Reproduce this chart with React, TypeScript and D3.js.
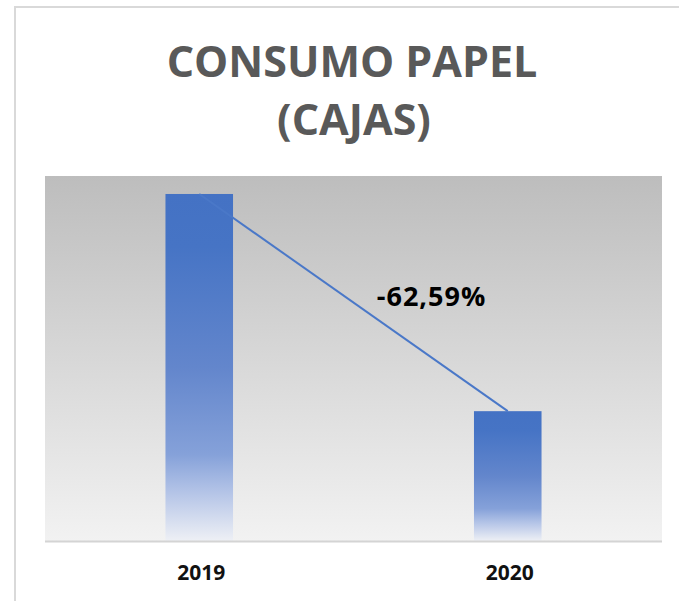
import React from "react";
import * as d3 from "d3";

const categories = ["2019", "2020"];
const consumo = [1390, 520];
const changeLabel = "-62,59%";
const titleLines = ["CONSUMO PAPEL", "(CAJAS)"];

const W = 679;
const H = 601;
const plot = { left: 45, right: 662, top: 176, bottom: 541 };

export default function App() {
  const x = d3.scaleBand<string>().domain(categories).range([plot.left, plot.right]).padding(0);
  const y = d3.scaleLinear().domain([0, 1462]).range([plot.bottom, plot.top]);
  const barW = x.bandwidth() * 0.219;
  const cx = (c: string) => (x(c) as number) + x.bandwidth() / 2;
  const lineGen = d3
    .line<number>()
    .x((_, i) => cx(categories[i]))
    .y((d) => y(d));

  const p0 = [cx(categories[0]), y(consumo[0])];
  const p1 = [cx(categories[1]), y(consumo[1])];

  return (
    <svg
      width={W}
      height={H}
      style={{ position: "absolute", left: 0, top: 0, background: "#fff" }}
      fontFamily="'Open Sans', sans-serif"
    >
      <defs>
        <linearGradient id="bg" x1="0" y1="0" x2="0" y2="1">
          <stop offset="0" stopColor="#bdbdbd" />
          <stop offset="1" stopColor="#f2f2f2" />
        </linearGradient>
        <linearGradient id="barG" x1="0" y1="0" x2="0" y2="1">
          <stop offset="0" stopColor="#4472C4" />
          <stop offset="0.15" stopColor="#4674c5" />
          <stop offset="0.5" stopColor="#6386cc" />
          <stop offset="0.75" stopColor="#85a1d9" />
          <stop offset="0.86" stopColor="#b4c4e7" />
          <stop offset="1" stopColor="#eef0f5" />
        </linearGradient>
      </defs>
      <rect x={15} y={7} width={700} height={650} fill="#fff" stroke="#d9d9d9" strokeWidth={2} />
      <g textAnchor="middle" fill="#595959" fontWeight="bold" fontSize={43}>
        <text x={352} y={77}>{titleLines[0]}</text>
        <text x={354} y={135}>{titleLines[1]}</text>
      </g>
      <rect
        x={plot.left}
        y={plot.top}
        width={plot.right - plot.left}
        height={plot.bottom - plot.top}
        fill="url(#bg)"
      />
      {categories.map((c, i) => (
        <rect
          key={c}
          x={cx(c) - barW / 2}
          y={y(consumo[i])}
          width={barW}
          height={y(0) - y(consumo[i])}
          fill="url(#barG)"
        />
      ))}
      <path d={lineGen(consumo) || ""} fill="none" stroke="#4a78c8" strokeWidth={2} />
      <line x1={plot.left} x2={plot.right} y1={plot.bottom + 0.5} y2={plot.bottom + 0.5} stroke="#d4d4d4" strokeWidth={2} />
      {categories.map((c) => (
        <text key={c} x={cx(c) + 2} y={580} textAnchor="middle" fontWeight="bold" fontSize={21} fill="#111">
          {c}
        </text>
      ))}
      <text
        x={(p0[0] + p1[0]) / 2 + 78}
        y={306}
        textAnchor="middle"
        fontWeight="bold"
        fontSize={27}
        letterSpacing={1}
        fill="#000"
      >
        {changeLabel}
      </text>
    </svg>
  );
}
